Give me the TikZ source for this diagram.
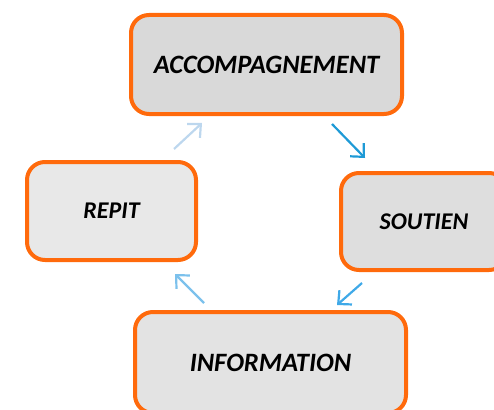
\documentclass[tikz,border=0pt]{standalone}
\usepackage{fontspec}
\setmainfont{Carlito}
\usetikzlibrary{arrows.meta}
\definecolor{orng}{HTML}{FF6A0C}
\definecolor{arrA}{HTML}{BDD7EE}
\definecolor{arrB}{HTML}{1E9AD6}
\definecolor{arrC}{HTML}{3FA9E8}
\definecolor{arrD}{HTML}{7CC1EC}
\tikzset{
  box/.style={draw=orng, line width=4pt, rounded corners=18pt, inner sep=0pt,
    font=\bfseries\itshape},
  big/.style={font=\fontsize{26.5}{30}\selectfont\bfseries\itshape},
  small/.style={font=\fontsize{24}{28}\selectfont\bfseries\itshape},
  arr/.style={line width=2.2pt, -{Straight Barb[length=10pt,width=19pt,line width=2.2pt]}}
}
\begin{document}
\begin{tikzpicture}[x=1pt,y=-1pt]
\useasboundingbox (0,0) rectangle (494,409);
\clip (0,0) rectangle (494,409);
\node[box, big, fill=black!15, minimum width=271pt, minimum height=99pt] (acc) at (266.5,64.5) {ACCOMPAGNEMENT};
\node[box, small, fill=black!13, minimum width=166pt, minimum height=97pt] (sou) at (424,221.5) {SOUTIEN};
\node[box, small, fill=black!9, minimum width=169pt, minimum height=98pt] (rep) at (111.5,211) {REPIT};
\node[box, big, fill=black!11, minimum width=271pt, minimum height=101pt] (inf) at (270.5,362.5) {INFORMATION};
\coordinate (a1) at (174,149);
\coordinate (a2) at (202,123);
\coordinate (b1) at (332,124);
\coordinate (b2) at (365,158);
\coordinate (c1) at (362,283);
\coordinate (c2) at (337,305);
\coordinate (d1) at (204,303);
\coordinate (d2) at (175,274);
\draw[arr, arrA] (a1) -- (a2);
\draw[arr, arrB] (b1) -- (b2);
\draw[arr, arrC] (c1) -- (c2);
\draw[arr, arrD] (d1) -- (d2);
\end{tikzpicture}
\end{document}
